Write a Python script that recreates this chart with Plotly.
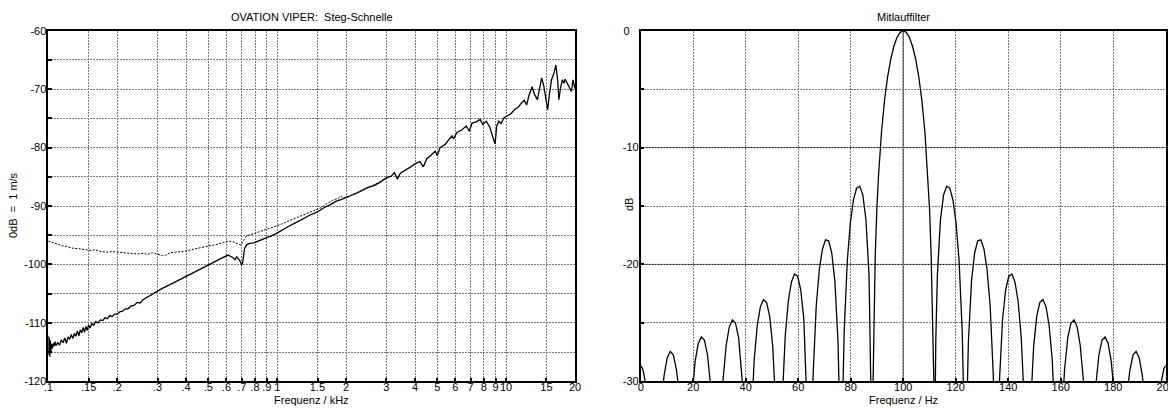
import plotly.graph_objects as go

# ---------------- data: left chart (bridge velocity, OVATION VIPER) ----------------
solid_khz = [0.100, 0.1005, 0.101, 0.1015, 0.102, 0.1025, 0.103, 0.104, 0.105, 0.106, 0.107, 0.108,
             0.110, 0.112, 0.114, 0.116, 0.118, 0.120, 0.122, 0.124, 0.126, 0.128, 0.130, 0.132,
             0.134, 0.136, 0.138, 0.140, 0.142, 0.144, 0.146, 0.148, 0.150, 0.152, 0.155, 0.158,
             0.161, 0.165, 0.169, 0.173, 0.177, 0.181, 0.185, 0.190, 0.195, 0.200, 0.205, 0.211,
             0.217, 0.223, 0.230, 0.237, 0.244, 0.252, 0.260, 0.270, 0.280, 0.290, 0.300, 0.315,
             0.330, 0.350, 0.370, 0.390, 0.410, 0.430, 0.450, 0.475, 0.500, 0.530, 0.560, 0.590,
             0.610, 0.625, 0.640, 0.654, 0.665, 0.685, 0.700, 0.706, 0.712, 0.720, 0.736, 0.760,
             0.790, 0.830, 0.880, 0.930, 0.980, 1.050, 1.120, 1.200, 1.300, 1.400, 1.500, 1.600,
             1.700, 1.800, 1.900, 2.000, 2.100, 2.200, 2.350, 2.500, 2.650, 2.800, 3.000, 3.150,
             3.250, 3.350, 3.450, 3.600, 3.800, 4.000, 4.200, 4.350, 4.500, 4.700, 4.900, 5.000,
             5.150, 5.400, 5.600, 5.800, 5.900, 6.100, 6.400, 6.700, 6.900, 7.100, 7.400, 7.700,
             7.900, 8.200, 8.500, 8.800, 8.950, 9.100, 9.300, 9.500, 9.800, 10.10, 10.50, 10.90,
             11.30, 11.70, 12.00, 12.30, 12.60, 13.00, 13.30, 13.70, 14.00, 14.30, 14.60, 14.90,
             15.20, 15.50, 15.80, 16.20, 16.50, 16.80, 17.00, 17.30, 17.60, 17.90, 18.10, 18.50,
             19.00, 19.30, 19.60, 19.80, 20.00]
solid_db = [-112.2, -115.5, -112.5, -115.8, -113.0, -115.2, -113.6, -114.4, -113.5, -114.0, -113.2, -113.9,
            -113.4, -113.8, -112.9, -113.4, -112.6, -113.5, -112.4, -112.8, -112.0, -112.7, -111.8, -112.3,
            -111.4, -112.2, -111.2, -111.7, -110.8, -111.6, -110.6, -111.3, -110.3, -110.9, -110.1, -110.4,
            -109.8, -110.0, -109.5, -109.6, -109.1, -109.3, -108.8, -108.9, -108.5, -108.5, -108.1, -108.0,
            -107.6, -107.6, -107.1, -107.0, -106.5, -106.6, -106.0, -105.6, -105.2, -104.9, -104.5, -104.1,
            -103.7, -103.2, -102.7, -102.3, -101.9, -101.5, -101.1, -100.6, -100.2, -99.6, -99.1, -98.7,
            -98.4, -98.6, -98.8, -99.2, -98.7, -99.3, -100.0, -99.8, -98.6, -97.3, -96.6, -96.4,
            -96.3, -96.0, -95.6, -95.2, -94.8, -94.1, -93.5, -92.9, -92.1, -91.5, -91.0, -90.3,
            -89.8, -89.2, -88.9, -88.5, -88.2, -87.9, -87.3, -86.8, -86.5, -86.0, -85.2, -84.9,
            -84.3, -85.4, -84.4, -84.0, -83.4, -82.8, -82.4, -83.3, -81.9, -81.3, -80.6, -81.4,
            -80.0, -79.5, -78.7, -78.0, -78.5, -77.4, -77.0, -76.3, -77.2, -75.8, -75.6, -75.2,
            -76.0, -75.5, -76.6, -78.5, -79.4, -76.3, -75.5, -75.9, -74.9, -74.6, -74.2, -73.5,
            -73.1, -72.3, -71.9, -72.7, -71.0, -69.6, -70.9, -71.8, -70.0, -68.1, -69.4, -71.5,
            -73.5, -70.5, -68.4, -67.2, -65.9, -68.5, -71.8, -69.8, -68.4, -69.0, -68.3, -69.0,
            -70.0, -70.4, -68.4, -69.2, -69.9]

dashed_khz = [0.100, 0.105, 0.110, 0.115, 0.120, 0.127, 0.135, 0.143, 0.152, 0.160, 0.170, 0.180,
              0.190, 0.200, 0.215, 0.230, 0.245, 0.260, 0.270, 0.285, 0.300, 0.315, 0.325, 0.340,
              0.360, 0.380, 0.400, 0.430, 0.460, 0.500, 0.540, 0.580, 0.610, 0.640, 0.660, 0.680,
              0.695, 0.710, 0.730, 0.760, 0.800, 0.850, 0.900, 0.960, 1.030, 1.100, 1.180, 1.260,
              1.350, 1.450, 1.550, 1.650, 1.750, 1.850, 1.900, 1.950, 2.050, 2.150, 2.300, 2.450,
              2.600, 2.800, 2.950]
dashed_db = [-96.0, -96.3, -96.5, -96.8, -96.9, -97.2, -97.3, -97.5, -97.6, -97.5, -97.8, -97.9,
             -97.8, -97.9, -98.0, -98.0, -98.2, -98.1, -98.3, -98.0, -98.2, -98.5, -98.4, -98.0,
             -97.9, -97.8, -97.7, -97.4, -97.2, -96.9, -96.6, -96.3, -96.0, -96.1, -96.3, -96.5,
             -96.7, -96.1, -95.2, -94.9, -94.7, -94.3, -94.0, -93.7, -93.2, -92.7, -92.2, -91.7,
             -91.2, -90.8, -90.3, -89.6, -89.0, -88.7, -88.3, -88.6, -88.4, -88.0, -87.4, -86.9,
             -86.5, -85.9, -85.3]

left_tickvals = [0.1, 0.15, 0.2, 0.3, 0.4, 0.5, 0.6, 0.7, 0.8, 0.9, 1, 1.5, 2, 3, 4, 5, 6, 7, 8, 9, 10, 15, 20]
left_ticktext = [".1", ".15", ".2", ".3", ".4", ".5", ".6", ".7", ".8", ".9", "1", "1.5", "2",
                 "3", "4", "5", "6", "7", "8", "9", "10", "15", "20"]
left_yvals = [-60, -65, -70, -75, -80, -85, -90, -95, -100, -105, -110, -115, -120]
left_ytext = ["-60", "", "-70", "", "-80", "", "-90", "", "-100", "", "-110", "", "-120"]

# ---------------- data: right chart (tracking filter) ----------------
filt_hz = [-2.92, -2.33, -1.74, -0.56, 0.63, 1.22, 1.81,
           8.32, 8.91, 10.09, 11.27, 12.46, 13.64, 14.23,
           19.56, 20.74, 21.92, 23.10, 24.29, 25.47, 26.65,
           30.79, 31.39, 32.57, 33.75, 34.93, 36.12, 37.30, 38.48, 39.08,
           42.03, 43.22, 44.40, 45.58, 46.76, 47.95, 49.13, 50.31, 51.50,
           53.86, 55.05, 56.23, 57.41, 58.59, 59.78, 60.96, 62.14, 63.33, 63.92,
           65.10, 65.69, 66.88, 68.06, 69.24, 70.42, 71.61, 72.79, 73.97, 75.16, 75.75,
           76.93, 77.52, 78.71, 79.89, 81.07, 82.25, 83.44, 84.62, 85.80, 86.99, 87.58, 87.93,
           88.52, 88.76, 89.35, 89.94, 90.54, 91.72, 92.90, 94.08, 95.27, 96.45, 97.63, 98.82,
           100.0,
           101.18, 102.37, 103.55, 104.73, 105.92, 107.10, 108.28, 109.46, 110.06, 110.65, 111.24, 111.48,
           112.07, 112.42, 113.01, 114.20, 115.38, 116.56, 117.75, 118.93, 120.11, 121.29, 122.48, 123.07,
           124.25, 124.84, 126.03, 127.21, 128.39, 129.58, 130.76, 131.94, 133.12, 134.31, 134.90,
           136.08, 136.67, 137.86, 139.04, 140.22, 141.41, 142.59, 143.77, 144.95, 146.14,
           148.50, 149.69, 150.87, 152.05, 153.24, 154.42, 155.60, 156.78, 157.97,
           160.92, 161.52, 162.70, 163.88, 165.07, 166.25, 167.43, 168.61, 169.21,
           173.35, 174.53, 175.71, 176.90, 178.08, 179.26, 180.44,
           185.77, 186.36, 187.54, 188.73, 189.91, 191.09, 191.68,
           198.19, 198.78, 199.37, 200.56, 201.74]
filt_db = [-30.57, -29.68, -29.07, -28.53, -28.87, -29.38, -30.17,
           -30.74, -29.51, -28.00, -27.44, -27.76, -29.05, -30.16,
           -31.21, -28.30, -26.77, -26.20, -26.50, -27.77, -30.41,
           -32.15, -29.83, -26.90, -25.34, -24.75, -25.03, -26.27, -28.88, -31.04,
           -33.95, -28.19, -25.23, -23.63, -23.01, -23.25, -24.45, -27.03, -32.40,
           -31.96, -26.16, -23.15, -21.51, -20.82, -21.01, -22.15, -24.67, -29.97, -35.74,
           -35.45, -29.39, -23.51, -20.41, -18.68, -17.90, -17.98, -19.02, -21.41, -26.59, -32.29,
           -31.85, -25.72, -19.67, -16.39, -14.46, -13.47, -13.30, -14.06, -16.15, -20.97, -26.48, -34.16,
           -30.2, -25.61, -19.23, -15.39, -12.62, -8.69, -5.94, -3.92, -2.42, -1.33, -0.58, -0.14,
           0.0,
           -0.14, -0.58, -1.33, -2.42, -3.92, -5.94, -8.69, -12.62, -15.39, -19.23, -25.61, -30.2,
           -34.16, -26.48, -20.97, -16.15, -14.06, -13.30, -13.47, -14.46, -16.39, -19.67, -25.72, -31.85,
           -32.29, -26.59, -21.41, -19.02, -17.98, -17.90, -18.68, -20.41, -23.51, -29.39, -35.45,
           -35.74, -29.97, -24.67, -22.15, -21.01, -20.82, -21.51, -23.15, -26.16, -31.96,
           -32.40, -27.03, -24.45, -23.25, -23.01, -23.63, -25.23, -28.19, -33.95,
           -31.04, -28.88, -26.27, -25.03, -24.75, -25.34, -26.90, -29.83, -32.15,
           -30.41, -27.77, -26.50, -26.20, -26.77, -28.30, -31.21,
           -30.16, -29.05, -27.76, -27.44, -28.00, -29.51, -30.74,
           -30.17, -29.38, -28.87, -28.53, -29.07]

right_xvals = [0, 20, 40, 60, 80, 100, 120, 140, 160, 180, 200]
right_yvals = [0, -5, -10, -15, -20, -25, -30]
right_ytext = ["0\u00a0\u00a0\u00a0", "", "-10", "", "-20", "", "-30"]
right_solid_h = [-10, -20]
right_solid_v = [100]

FONT = "Liberation Sans, Arial, Helvetica, sans-serif"
GRID = "#7a7a7a"

# page body has an 8 px margin: the figure is sized to fit the 1176x408 window exactly
OFF = 8
W, H = 1176 - OFF, 408 - OFF


def px(p):
    return (p - OFF) / W


def py(p):
    return 1 - (p - OFF) / H


fig = go.Figure()
fig.add_trace(go.Scatter(x=dashed_khz, y=dashed_db, mode="lines",
                         line=dict(color="black", width=1, dash="2px,1.5px"),
                         xaxis="x", yaxis="y", showlegend=False, hoverinfo="skip"))
fig.add_trace(go.Scatter(x=solid_khz, y=solid_db, mode="lines",
                         line=dict(color="black", width=1.3),
                         xaxis="x", yaxis="y", showlegend=False, hoverinfo="skip"))
fig.add_trace(go.Scatter(x=filt_hz, y=filt_db, mode="lines",
                         line=dict(color="black", width=1.3),
                         xaxis="x2", yaxis="y2", showlegend=False, hoverinfo="skip"))

ax_common = dict(showline=True, linecolor="black", linewidth=1.5, mirror=True,
                 ticks="inside", ticklen=4, tickcolor="black", tickwidth=1.5,
                 showgrid=True, gridcolor=GRID, gridwidth=1, griddash="2px,1px",
                 zeroline=False, automargin=False,
                 tickfont=dict(family=FONT, size=11, color="black"))
xax_extra = dict(tickangle=0, ticklabelstandoff=-5)
yax_extra = dict(ticklabelstandoff=-2)

x1dom = [px(48.3), px(575.0)]
x2dom = [px(640.7), px(1165.7)]
ydom = [py(381.3), py(30.7)]

fig.update_layout(
    width=W, height=H, autosize=False,
    margin=dict(l=0, r=0, t=0, b=0, autoexpand=False),
    paper_bgcolor="white", plot_bgcolor="white",
    font=dict(family=FONT, size=11, color="black"),
    xaxis=dict(type="log", range=[-1, 1.30103], domain=x1dom, anchor="y",
               tickmode="array", tickvals=left_tickvals, ticktext=left_ticktext,
               **ax_common, **xax_extra),
    yaxis=dict(range=[-120, -60], domain=ydom, anchor="x",
               tickmode="array", tickvals=left_yvals, ticktext=left_ytext,
               **ax_common, **yax_extra),
    xaxis2=dict(range=[0, 200], domain=x2dom, anchor="y2",
                tickmode="array", tickvals=right_xvals, **ax_common, **xax_extra),
    yaxis2=dict(range=[-30, 0], domain=ydom, anchor="x2",
                tickmode="array", tickvals=right_yvals, ticktext=right_ytext,
                **ax_common, **yax_extra),
)

for yv in right_solid_h:
    fig.add_shape(type="line", xref="x2 domain", yref="y2", x0=0, x1=1, y0=yv, y1=yv,
                  line=dict(color="black", width=1), layer="below")
for xv in right_solid_v:
    fig.add_shape(type="line", xref="x2", yref="y2 domain", x0=xv, x1=xv, y0=0, y1=1,
                  line=dict(color="black", width=1), layer="below")

ann = [
    dict(text="OVATION VIPER:  Steg-Schnelle", x=(x1dom[0] + x1dom[1]) / 2, y=py(17)),
    dict(text="Mitlauffilter", x=(x2dom[0] + x2dom[1]) / 2, y=py(17)),
    dict(text="Frequenz / kHz", x=(x1dom[0] + x1dom[1]) / 2, y=py(400)),
    dict(text="Frequenz / Hz", x=(x2dom[0] + x2dom[1]) / 2, y=py(400)),
    dict(text="0dB  =  1 m/s", x=px(13), y=py(205), textangle=-90),
    dict(text="dB", x=px(629), y=py(205), textangle=-90),
]
for a in ann:
    fig.add_annotation(xref="paper", yref="paper", showarrow=False,
                       xanchor="center", yanchor="middle",
                       font=dict(family=FONT, size=11, color="black"), **a)

fig.write_html("out.html")
